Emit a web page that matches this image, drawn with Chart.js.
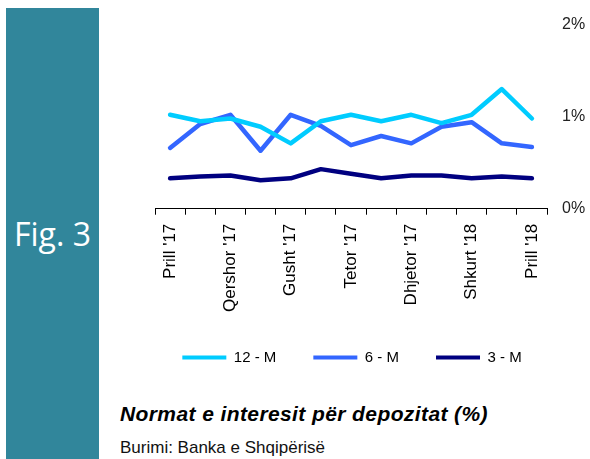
<!DOCTYPE html>
<html>
<head>
<meta charset="utf-8">
<script src="https://cdn.jsdelivr.net/npm/chart.js@4"></script>
<style>
  body { margin: 0; width: 590px; height: 459px; background: #fff; overflow: hidden; position: relative; font-family: 'Liberation Sans', Arial, sans-serif; }
  #panel { position: absolute; left: 6px; top: 8px; width: 93px; height: 451px; background: #31869b; }
  #fig { position: absolute; left: 0; width: 93px; top: 204px; text-align: center; color: #fff; font-family: 'Open Sans', sans-serif; font-size: 32px; }
  #wrap { position: absolute; left: 100px; top: 0; width: 490px; height: 383px; }
  #title { position: absolute; left: 120px; top: 402px; font-size: 21px; font-weight: bold; font-style: italic; letter-spacing: 0.4px; color: #000; }
  #source { position: absolute; left: 120px; top: 438px; font-size: 17px; color: #111; }
</style>
</head>
<body>
<div id="panel"><div id="fig">Fig. 3</div></div>
<div id="wrap"><canvas id="rates"></canvas></div>
<div id="title">Normat e interesit për depozitat (%)</div>
<div id="source">Burimi: Banka e Shqipërisë</div>
<script>
const months = ["Prill '17", "Maj '17", "Qershor '17", "Korrik '17", "Gusht '17", "Shtator '17", "Tetor '17",
  "Nëntor '17", "Dhjetor '17", "Janar '18", "Shkurt '18", "Mars '18", "Prill '18"];
const rate12 = [1.02, 0.95, 0.98, 0.89, 0.71, 0.95, 1.02, 0.95, 1.02, 0.93, 1.02, 1.30, 0.98];
const rate6 = [0.66, 0.92, 1.02, 0.63, 1.02, 0.90, 0.69, 0.79, 0.71, 0.89, 0.94, 0.71, 0.67];
const rate3 = [0.33, 0.35, 0.36, 0.31, 0.33, 0.43, 0.38, 0.33, 0.36, 0.36, 0.33, 0.35, 0.33];

Chart.defaults.font.family = "'Liberation Sans', Arial, sans-serif";
Chart.defaults.color = '#000';

// nudge the legend so it sits under the plot like the original
const legendShift = {
  id: 'legendShift',
  afterLayout(chart) {
    const lg = chart.legend;
    lg.left -= 18; lg.right -= 18;
    lg.top -= 8; lg.bottom -= 8;
  }
};

function line(label, data, color) {
  return {
    label: label,
    data: data,
    borderColor: color,
    backgroundColor: color,
    borderWidth: 4.5,
    pointRadius: 0,
    tension: 0,
    borderCapStyle: 'round',
    borderJoinStyle: 'round'
  };
}

new Chart(document.getElementById('rates'), {
  type: 'line',
  data: {
    labels: months,
    datasets: [
      line('12 - M', rate12, '#00ccff'),
      line('6 - M', rate6, '#3366ff'),
      line('3 - M', rate3, '#000080')
    ]
  },
  options: {
    responsive: true,
    maintainAspectRatio: false,
    animation: false,
    layout: { padding: { left: 55, right: 5, top: 22, bottom: 0 } },
    plugins: {
      tooltip: { enabled: false },
      legend: {
        position: 'bottom',
        labels: {
          boxWidth: 44,
          boxHeight: 4,
          padding: 37,
          font: { size: 15 },
          color: '#000',
          generateLabels(chart) {
            return chart.data.datasets.map((ds, i) => ({
              text: ds.label,
              fillStyle: ds.borderColor,
              strokeStyle: ds.borderColor,
              lineWidth: 0,
              hidden: false,
              datasetIndex: i
            }));
          }
        }
      }
    },
    scales: {
      x: {
        offset: true,
        grid: { offset: true, drawOnChartArea: false, drawTicks: true, tickLength: 6, color: '#000' },
        border: { display: true, color: '#000', width: 1 },
        ticks: {
          autoSkip: false,
          maxRotation: 90,
          minRotation: 90,
          padding: 9,
          font: { size: 17 },
          color: '#000',
          callback(v, i) { return i % 2 === 0 ? months[i] : ''; }
        },
        afterFit(scale) {
          scale.paddingLeft = 0;
          scale.paddingRight = 0;
        }
      },
      y: {
        position: 'right',
        min: 0,
        max: 2,
        grid: { display: false, drawTicks: false },
        border: { display: false },
        ticks: {
          stepSize: 1,
          padding: 15,
          font: { size: 16 },
          color: '#222',
          callback(v) { return v + '%'; }
        },
        afterFit(scale) {
          scale.width = 38;
        }
      }
    }
  },
  plugins: [legendShift]
});
</script>
</body>
</html>
